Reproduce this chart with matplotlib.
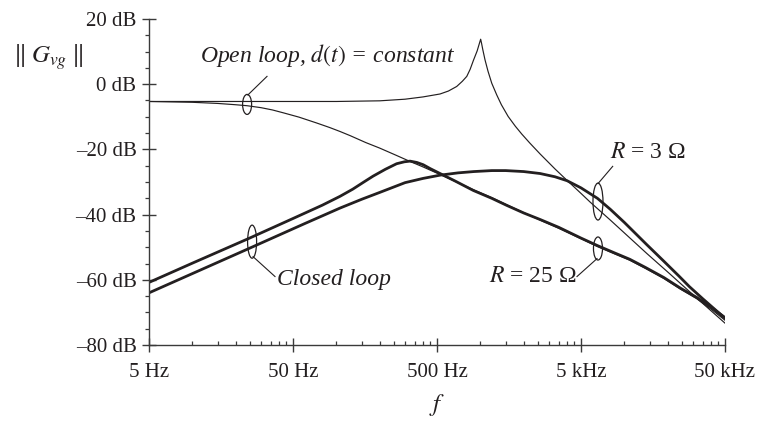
import numpy as np
import matplotlib
matplotlib.use("Agg")
import matplotlib.pyplot as plt
from matplotlib.patches import Ellipse
from matplotlib.transforms import ScaledTranslation
from matplotlib.ticker import FixedLocator, NullFormatter

plt.rcParams["font.family"] = ["Liberation Serif", "DejaVu Serif"]
plt.rcParams["mathtext.fontset"] = "stix"

INK = "#231f20"

# open loop, resonant (R = 3 ohm)
f_open_3 = [5, 20, 50, 100, 200, 300, 400, 525, 600, 685, 750, 805, 850, 895,
            950, 980, 1005, 1020, 1040, 1077, 1130, 1200, 1300, 1400, 1560, 1750,
            1940, 2200, 2600, 3300, 4000, 5000, 5800, 8000, 14300, 20000, 31800,
            50000]
db_open_3 = [-5.3, -5.3, -5.3, -5.3, -5.1, -4.6, -3.9, -3.0, -2.1, -0.7, 0.9, 2.4,
             4.6, 7.3, 10.2, 12.2, 13.8, 12.5, 10.6, 7.5, 4.0, 0.3, -3.3, -6.3,
             -9.9, -12.9, -15.3, -18.0, -21.4, -26.0, -29.5, -33.5, -36.2, -41.7,
             -51.9, -57.6, -65.6, -73.3]

# open loop, rolls off early (R = 25 ohm)
f_open_25 = [5, 10, 15, 20, 24, 30, 36, 43, 55, 73, 90, 106, 125, 160, 200, 260,
             325, 401, 525, 700, 900, 1200, 1530, 2000, 2600, 3500, 5000, 6500,
             8500, 10900, 14000, 18800, 24600, 31800, 40000, 50000]
db_open_25 = [-5.3, -5.55, -5.9, -6.3, -6.6, -7.2, -7.9, -8.8, -10.1, -11.9, -13.3,
              -14.5, -15.8, -17.9, -19.6, -21.8, -23.7, -25.4, -27.7, -30.2, -32.4,
              -34.8, -37.0, -39.4, -41.7, -44.2, -47.4, -49.8, -52.0, -54.0, -56.5,
              -59.6, -62.9, -65.8, -69.0, -72.4]

# closed loop, R = 25 ohm
f_closed_25 = [5, 10, 25, 50, 80, 106, 130, 154, 180, 219, 262, 297, 325, 362,
               401, 449, 525, 668, 894, 1200, 1530, 2000, 2600, 3500, 5000, 6500,
               8500, 10900, 14000, 18800, 24600, 31800, 40000, 50000]
db_closed_25 = [-60.8, -54.9, -47.2, -41.2, -37.1, -34.4, -32.2, -30.1, -28.2,
                -26.1, -24.4, -23.8, -23.6, -24.0, -24.7, -25.9, -27.4, -29.7,
                -32.6, -35.0, -37.2, -39.5, -41.5, -43.9, -47.2, -49.5, -51.7,
                -53.7, -56.2, -59.3, -62.6, -65.4, -68.4, -71.6]

# closed loop, R = 3 ohm
f_closed_3 = [5, 25, 60, 106, 150, 200, 300, 400, 525, 700, 900, 1200, 1500, 2000,
              2600, 3300, 4000, 5000, 6500, 8000, 10000, 14300, 18800, 24000,
              28300, 35000, 50000]
db_closed_3 = [-64.0, -50.3, -42.8, -38.0, -35.3, -33.2, -30.2, -28.9, -27.9,
               -27.2, -26.8, -26.5, -26.5, -26.8, -27.4, -28.4, -29.6, -31.8,
               -35.0, -38.4, -42.4, -49.2, -54.3, -58.9, -62.1, -65.8, -71.8]

x_ticks = [5, 50, 500, 5000, 50000]
x_labels = ["5 Hz", "50 Hz", "500 Hz", "5 kHz", "50 kHz"]
y_ticks = [-80, -60, -40, -20, 0, 20]
y_labels = ["\u201380 dB", "\u201360 dB", "\u201340 dB", "\u201320 dB", "0 dB", "20 dB"]


def ring(ax, f, db, w, h):
    # small ellipse (size in points) centred on a data point
    tr = ax.figure.dpi_scale_trans + ScaledTranslation(f, db, ax.transData)
    ax.add_patch(Ellipse((0, 0), w / 72, h / 72, transform=tr, fill=False,
                         lw=0.9, ec=INK, clip_on=False))


fig = plt.figure(figsize=(7.61, 4.21), dpi=100)
ax = fig.add_axes([149 / 761, 1 - 345 / 421, 576 / 761, 326 / 421])

ax.plot(f_open_3, db_open_3, color=INK, lw=0.85)
ax.plot(f_open_25, db_open_25, color=INK, lw=0.85)
ax.plot(f_closed_25, db_closed_25, color=INK, lw=2.0)
ax.plot(f_closed_3, db_closed_3, color=INK, lw=2.0)

ax.set_xscale("log")
ax.set_xlim(5, 50000)
ax.set_ylim(-80, 20)
for s in ("top", "right"):
    ax.spines[s].set_visible(False)
for s in ("left", "bottom"):
    ax.spines[s].set_color("#3a3a3a")
    ax.spines[s].set_linewidth(1.0)

ax.xaxis.set_major_locator(FixedLocator(x_ticks))
ax.set_xticklabels(x_labels)
minor_x = [k * 5 * 10 ** n for n in range(4) for k in range(2, 10)]
ax.xaxis.set_minor_locator(FixedLocator(minor_x))
ax.xaxis.set_minor_formatter(NullFormatter())
ax.set_yticks(y_ticks)
ax.set_yticklabels(y_labels)
ax.yaxis.set_minor_locator(FixedLocator(np.arange(-80, 21, 5)))

ax.tick_params(which="major", direction="inout", length=10, width=1.0,
               color="#3a3a3a", labelsize=15, labelcolor=INK)
ax.tick_params(axis="x", which="major", pad=8)
ax.tick_params(axis="y", which="major", pad=4)
ax.tick_params(axis="x", which="minor", direction="in", length=3, width=0.9,
               color="#3a3a3a")
ax.tick_params(axis="y", which="minor", direction="out", length=3, width=0.9,
               color="#3a3a3a")

# annotations
ax.text(11.3, 6.7, "Open loop, $d(t)$ = constant", fontsize=17, style="italic",
        color=INK, ha="left", va="baseline")
ax.plot([33, 24.3], [2.4, -3.3], color=INK, lw=0.8)
ring(ax, 24, -6.2, 6.5, 14.4)

ax.text(7950, -22.5, "$R$ = 3 \u03a9", fontsize=17, color=INK,
        ha="left", va="baseline")
ax.plot([8300, 6560], [-25.2, -30.5], color=INK, lw=0.8)
ring(ax, 6560, -36.0, 7.2, 26.6)

ax.text(4690, -60.8, "$R$ = 25 \u03a9", fontsize=17, color=INK,
        ha="right", va="baseline")
ax.plot([4690, 6460], [-59.0, -53.5], color=INK, lw=0.8)
ring(ax, 6560, -50.4, 6.5, 16.6)

ax.text(38.7, -61.5, "Closed loop", fontsize=17, style="italic", color=INK,
        ha="left", va="baseline")
ax.plot([37.5, 26.4], [-59.0, -52.9], color=INK, lw=0.8)
ring(ax, 26, -48.3, 6.5, 23.8)

fig.text(13 / 761, 1 - 57 / 421, r"$\Vert\;G_{vg}\;\Vert$", fontsize=18,
         color=INK, ha="left", va="center")
fig.text(437 / 761, 1 - 411 / 421, "$f$", fontsize=18, color=INK,
         ha="center", va="baseline")

fig.savefig("out.png", dpi=100)
